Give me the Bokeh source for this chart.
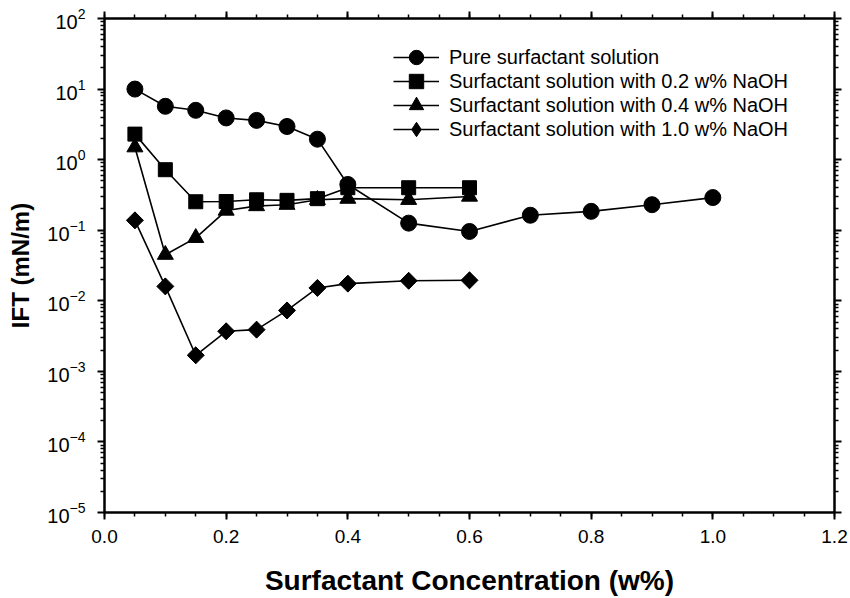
import math
from bokeh.plotting import figure
from bokeh.models import (LinearAxis, LogAxis, FixedTicker, Legend, LegendItem,
                          Range1d, NumeralTickFormatter, CustomJSTickFormatter)
from bokeh.embed import file_html
from bokeh.resources import INLINE

# IFT measurements (mN/m) versus surfactant concentration (w%)
conc_pure = [0.05, 0.10, 0.15, 0.20, 0.25, 0.30, 0.35, 0.40, 0.50, 0.60, 0.70, 0.80, 0.90, 1.00]
ift_pure = [10.0, 5.7, 5.0, 3.9, 3.6, 2.95, 1.95, 0.445, 0.126, 0.096, 0.163, 0.185, 0.23, 0.29]

conc_naoh02 = [0.05, 0.10, 0.15, 0.20, 0.25, 0.30, 0.35, 0.40, 0.50, 0.60]
ift_naoh02 = [2.3, 0.72, 0.253, 0.255, 0.27, 0.265, 0.28, 0.40, 0.40, 0.40]

conc_naoh04 = [0.05, 0.10, 0.15, 0.20, 0.25, 0.30, 0.35, 0.40, 0.50, 0.60]
ift_naoh04 = [1.5, 0.045, 0.078, 0.19, 0.22, 0.23, 0.27, 0.28, 0.27, 0.30]

conc_naoh10 = [0.05, 0.10, 0.15, 0.20, 0.25, 0.30, 0.35, 0.40, 0.50, 0.60]
ift_naoh10 = [0.138, 0.016, 0.00169, 0.0037, 0.0039, 0.0073, 0.0152, 0.0175, 0.0192, 0.0195]

series_labels = [
    "Pure surfactant solution",
    "Surfactant solution with 0.2 w% NaOH",
    "Surfactant solution with 0.4 w% NaOH",
    "Surfactant solution with 1.0 w% NaOH",
]

x_ticks = [0.0, 0.2, 0.4, 0.6, 0.8, 1.0, 1.2]
x_minor = [round(i * 0.05, 2) for i in range(0, 25)]
y_ticks = [1e-5, 1e-4, 1e-3, 1e-2, 1e-1, 1e0, 1e1, 1e2]
y_minor = [m * 10.0 ** k for k in range(-5, 2) for m in range(2, 10)]

FONT = "Liberation Sans"

p = figure(width=850, height=598, output_backend="svg", toolbar_location=None,
           x_range=Range1d(0, 1.2), y_range=Range1d(1e-5, 1e2),
           y_axis_type="log",
           min_border_left=104, min_border_right=16,
           min_border_top=18, min_border_bottom=86)
p.grid.visible = False
p.outline_line_color = "black"
p.outline_line_width = 2
p.background_fill_color = "white"
p.border_fill_color = "white"

xt = FixedTicker(ticks=x_ticks, minor_ticks=x_minor)
yt = FixedTicker(ticks=y_ticks, minor_ticks=y_minor)
blank = CustomJSTickFormatter(code="return ''")


def style_axis(ax, labels=True):
    ax.axis_line_width = 2
    ax.axis_line_color = "black"
    ax.major_tick_line_width = 2
    ax.minor_tick_line_width = 1.5
    ax.major_tick_out = 7
    ax.major_tick_in = 0
    ax.minor_tick_out = 4
    ax.minor_tick_in = 0
    if labels:
        ax.major_label_text_font = FONT
        ax.major_label_text_font_size = "19px"
        ax.major_label_text_color = "black"
        ax.axis_label_text_font = FONT
        ax.axis_label_text_font_style = "bold"
        ax.axis_label_text_color = "black"
    else:
        ax.formatter = blank
        ax.major_label_standoff = 0


xa = p.xaxis[0]
xa.ticker = xt
xa.formatter = NumeralTickFormatter(format="0.0")
style_axis(xa)
xa.axis_label = "Surfactant Concentration (w%)"
xa.axis_label_text_font_size = "28px"
xa.major_label_standoff = 10
xa.axis_label_standoff = 19

ya = p.yaxis[0]
ya.ticker = yt
style_axis(ya)
ya.major_label_text_font_size = "20px"
ya.axis_label = "IFT (mN/m)"
ya.axis_label_text_font_size = "24px"
ya.major_label_standoff = 12
ya.axis_label_standoff = 10

top = LinearAxis(ticker=xt)
style_axis(top, labels=False)
p.add_layout(top, "above")

right = LogAxis(ticker=yt)
style_axis(right, labels=False)
p.add_layout(right, "right")

LW = 1.6
r1l = p.line(conc_pure, ift_pure, line_color="black", line_width=LW)
r1m = p.scatter(conc_pure, ift_pure, marker="circle", size=16, color="black")
r2l = p.line(conc_naoh02, ift_naoh02, line_color="black", line_width=LW)
r2m = p.scatter(conc_naoh02, ift_naoh02, marker="square", size=14, color="black")
r3l = p.line(conc_naoh04, ift_naoh04, line_color="black", line_width=LW)
r3m = p.scatter(conc_naoh04, ift_naoh04, marker="triangle", size=16, color="black")
r4l = p.line(conc_naoh10, ift_naoh10, line_color="black", line_width=LW)
# diamond glyph sits inside the rotated square; it supplies the legend symbol
r4d = p.scatter(conc_naoh10, ift_naoh10, marker="diamond", size=16, color="black")
r4m = p.scatter(conc_naoh10, ift_naoh10, marker="square", size=12, angle=math.pi / 4,
                color="black")

# one single-entry legend per series so that rows can sit closer than the symbol box
legend_rows = [
    (series_labels[0], [r1l, r1m], 57),
    (series_labels[1], [r2l, r2m], 81),
    (series_labels[2], [r3l, r3m], 105),
    (series_labels[3], [r4l, r4d], 129),
]
GLYPH_H = 36
for label, rends, row_center in legend_rows:
    lg = Legend(items=[LegendItem(label=label, renderers=rends)],
                location=(289, 512 - row_center - GLYPH_H // 2))
    lg.background_fill_alpha = 0
    lg.border_line_color = None
    lg.padding = 0
    lg.margin = 0
    lg.spacing = 0
    lg.glyph_width = 46
    lg.glyph_height = GLYPH_H
    lg.label_height = 24
    lg.label_standoff = 10
    lg.label_text_font = FONT
    lg.label_text_font_size = "20px"
    lg.label_text_color = "black"
    p.add_layout(lg, "center")

open("out.html", "w").write(file_html(p, INLINE))
